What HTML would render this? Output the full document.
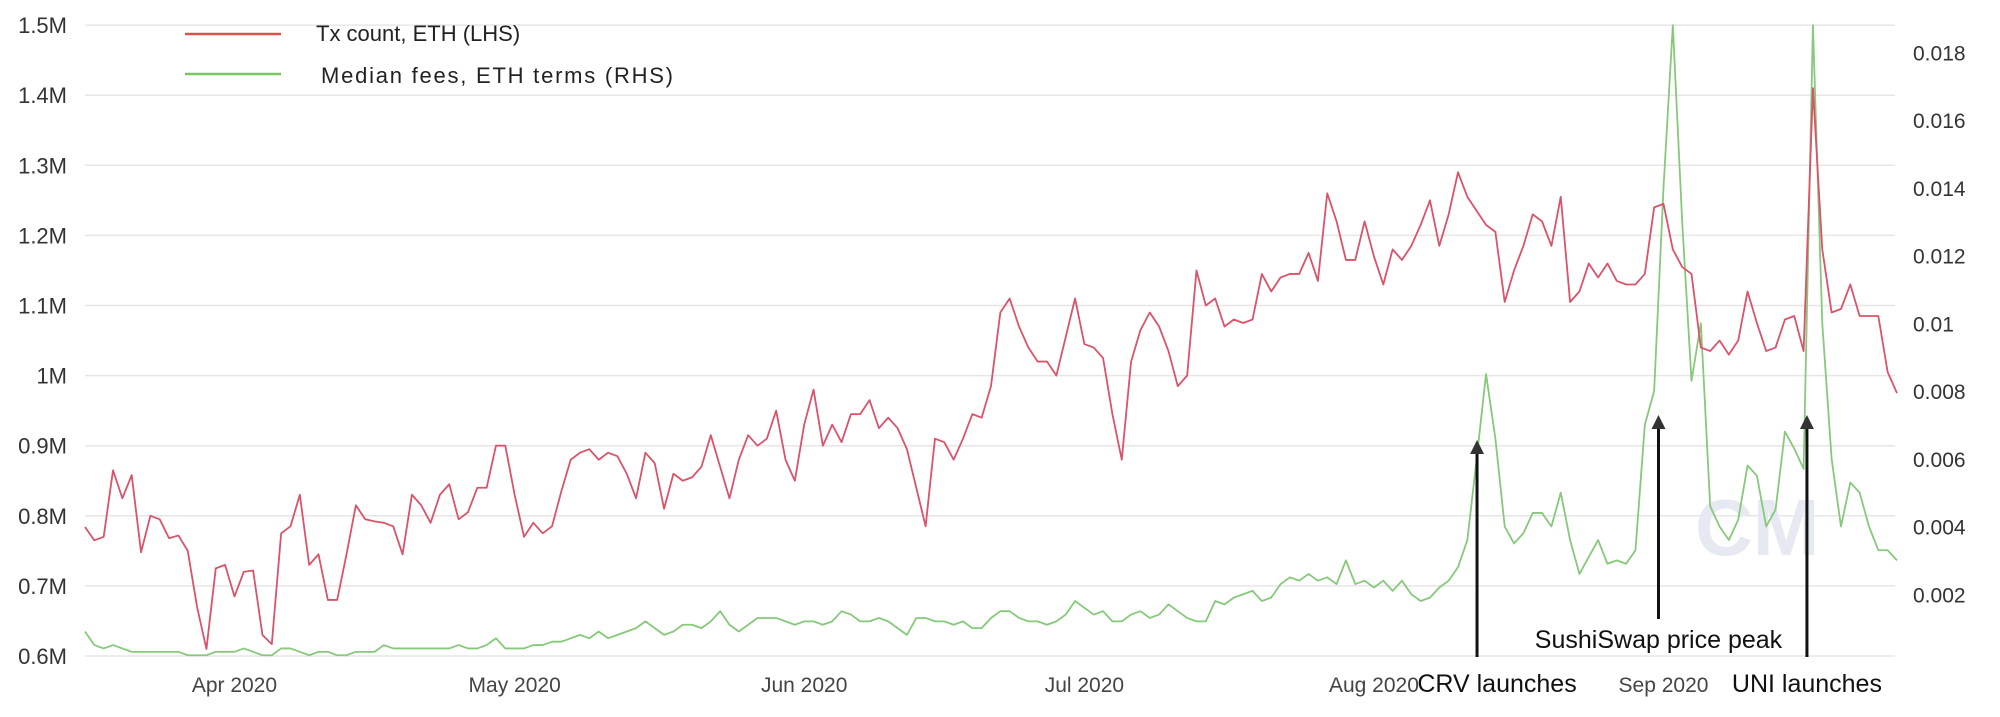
<!DOCTYPE html>
<html><head><meta charset="utf-8"><style>
html,body{margin:0;padding:0;background:#fff;}
svg{display:block;font-family:"Liberation Sans",sans-serif;}
</style></head><body>
<svg id="chart" width="2000" height="717" viewBox="0 0 2000 717">
<g id="grid"></g>
<g id="yleft"></g>
<g id="yright"></g>
<g id="xaxis"></g>
<text x="1695" y="555" font-size="80" fill="#e6e8f2" font-weight="bold">CM</text>
<g id="series"></g>
<g>
<g><line x1="185" y1="34" x2="281" y2="34" stroke="#d9534f" stroke-width="2.5"/><text x="316" y="41" font-size="22" fill="#222">Tx count, ETH (LHS)</text></g>
<g><line x1="185" y1="74" x2="281" y2="74" stroke="#7cc36a" stroke-width="2.5"/><text x="321" y="83" font-size="22" fill="#222" textLength="352" lengthAdjust="spacing">Median fees, ETH terms (RHS)</text></g>
</g>
<g id="annotations"></g>
</svg>
<script>
const dates = ["2020-03-16","2020-09-26"];
const monthLabels = ["Apr 2020","May 2020","Jun 2020","Jul 2020","Aug 2020","Sep 2020"];
const monthDayIndex = [16,46,77,107,138,169];
const leftTicks = [0.6,0.7,0.8,0.9,1.0,1.1,1.2,1.3,1.4,1.5];
const leftTickLabels = ["0.6M","0.7M","0.8M","0.9M","1M","1.1M","1.2M","1.3M","1.4M","1.5M"];
const rightTicks = [0.002,0.004,0.006,0.008,0.01,0.012,0.014,0.016,0.018];
const rightTickLabels = ["0.002","0.004","0.006","0.008","0.01","0.012","0.014","0.016","0.018"];
const txCount = [0.784,0.765,0.77,0.865,0.825,0.858,0.748,0.80,0.795,0.768,0.772,0.75,0.67,0.61,0.725,0.73,
0.685,0.72,0.722,0.63,0.617,0.775,0.785,0.83,0.73,0.745,0.68,0.68,0.745,0.815,0.795,0.792,0.79,0.785,0.745,0.83,0.815,0.79,0.83,0.845,0.795,0.805,0.84,0.84,0.90,0.90,
0.83,0.77,0.79,0.775,0.785,0.835,0.88,0.89,0.895,0.88,0.89,0.885,0.86,0.825,0.89,0.875,0.81,0.86,0.85,0.855,0.87,0.915,0.87,0.825,0.88,0.915,0.90,0.91,0.95,0.88,0.85,
0.93,0.98,0.90,0.93,0.905,0.945,0.945,0.965,0.925,0.94,0.925,0.895,0.84,0.785,0.91,0.905,0.88,0.91,0.945,0.94,0.985,1.09,1.11,1.07,1.04,1.02,1.02,1.0,1.055,1.11,
1.045,1.04,1.025,0.945,0.88,1.02,1.065,1.09,1.07,1.035,0.985,1.0,1.15,1.10,1.11,1.07,1.08,1.075,1.08,1.145,1.12,1.14,1.145,1.145,1.175,1.135,1.26,1.22,1.165,1.165,1.22,
1.17,1.13,1.18,1.165,1.185,1.215,1.25,1.185,1.23,1.29,1.255,1.235,1.215,1.205,1.105,1.15,1.185,1.23,1.22,1.185,1.255,1.105,1.12,1.16,1.14,1.16,1.135,1.13,1.13,1.145,1.24,
1.245,1.18,1.155,1.145,1.04,1.035,1.05,1.03,1.05,1.12,1.075,1.035,1.04,1.08,1.085,1.035,1.41,1.18,1.09,1.095,1.13,1.085,1.085,1.085,1.005,0.975];
const medianFees = [0.0009,0.0005,0.0004,0.0005,0.0004,0.0003,0.0003,0.0003,0.0003,0.0003,0.0003,0.0002,0.0002,0.0002,0.0003,0.0003,
0.0003,0.0004,0.0003,0.0002,0.0002,0.0004,0.0004,0.0003,0.0002,0.0003,0.0003,0.0002,0.0002,0.0003,0.0003,0.0003,0.0005,0.0004,0.0004,0.0004,0.0004,0.0004,0.0004,0.0004,0.0005,0.0004,0.0004,0.0005,0.0007,0.0004,
0.0004,0.0004,0.0005,0.0005,0.0006,0.0006,0.0007,0.0008,0.0007,0.0009,0.0007,0.0008,0.0009,0.0010,0.0012,0.0010,0.0008,0.0009,0.0011,0.0011,0.0010,0.0012,0.0015,0.0011,0.0009,0.0011,0.0013,0.0013,0.0013,0.0012,0.0011,
0.0012,0.0012,0.0011,0.0012,0.0015,0.0014,0.0012,0.0012,0.0013,0.0012,0.0010,0.0008,0.0013,0.0013,0.0012,0.0012,0.0011,0.0012,0.0010,0.0010,0.0013,0.0015,0.0015,0.0013,0.0012,0.0012,0.0011,0.0012,0.0014,0.0018,
0.0016,0.0014,0.0015,0.0012,0.0012,0.0014,0.0015,0.0013,0.0014,0.0017,0.0015,0.0013,0.0012,0.0012,0.0018,0.0017,0.0019,0.0020,0.0021,0.0018,0.0019,0.0023,0.0025,0.0024,0.0026,0.0024,0.0025,0.0023,0.0030,0.0023,0.0024,
0.0022,0.0024,0.0021,0.0024,0.0020,0.0018,0.0019,0.0022,0.0024,0.0028,0.0036,0.0060,0.0085,0.0066,0.0040,0.0035,0.0038,0.0044,0.0044,0.0040,0.0050,0.0036,0.0026,0.0031,0.0036,0.0029,0.0030,0.0029,0.0033,0.0070,0.0080,
0.0140,0.0188,0.0130,0.0083,0.0100,0.0046,0.0040,0.0036,0.0042,0.0058,0.0055,0.0040,0.0045,0.0068,0.0063,0.0057,0.0188,0.0100,0.0060,0.0040,0.0053,0.0050,0.0040,0.0033,0.0033,0.0030];
const annotationLabels = ["CRV launches","SushiSwap price peak","UNI launches"];
const annotationDayIndex = [150,169,185];

const NS="http://www.w3.org/2000/svg";
const X0=85, X1=1897;
const xScale=i=>X0+(X1-X0)*i/(txCount.length-1);
const yL=v=>656-(v-0.6)*701;
const yR=f=>662-f*33875;
function mk(tag,attrs,parent){const e=document.createElementNS(NS,tag);for(const k in attrs)e.setAttribute(k,attrs[k]);parent.appendChild(e);return e;}
const grid=document.getElementById('grid'),yl=document.getElementById('yleft'),yr=document.getElementById('yright'),xa=document.getElementById('xaxis'),se=document.getElementById('series'),an=document.getElementById('annotations');
leftTicks.forEach((v,i)=>{
  const g=mk('line',{x1:X0,x2:1895,y1:yL(v),y2:yL(v),stroke:'#e6e6e6','stroke-width':1.5},grid);
  
  
  const t=mk('text',{x:67,y:yL(v)+8,'text-anchor':'end','font-size':22,fill:'#333'},yl);
  t.textContent=leftTickLabels[i];
  
  
});
rightTicks.forEach((v,i)=>{
  const t=mk('text',{x:1913,y:yR(v)+8,'font-size':21,fill:'#333'},yr);
  t.textContent=rightTickLabels[i];
  
  
});
monthLabels.forEach((m,i)=>{
  const t=mk('text',{x:xScale(monthDayIndex[i]),y:692,'text-anchor':'middle','font-size':21,fill:'#444'},xa);
  t.textContent=m;
  
  
});
const fp=mk('polyline',{points:medianFees.map((f,i)=>xScale(i)+','+yR(f)).join(' '),fill:'none',stroke:'#86c97a','stroke-width':1.8,'stroke-linejoin':'round'},se);


const tp=mk('polyline',{points:txCount.map((v,i)=>xScale(i)+','+yL(v)).join(' '),fill:'none',stroke:'#d9536a','stroke-width':1.8,'stroke-linejoin':'round'},se);


const arrowTips=[440,415,415], arrowBottoms=[657,619,657], textY=[692,648,692];
annotationLabels.forEach((lab,i)=>{
  const x=xScale(annotationDayIndex[i])+(i==0?-9:(i==1?-5:-6));
  const g=mk('g',{},an);
  
  
  mk('line',{x1:x,x2:x,y1:arrowTips[i]+12,y2:arrowBottoms[i],stroke:'#111','stroke-width':3},g);
  mk('polygon',{points:(x-7)+','+(arrowTips[i]+14)+' '+(x+7)+','+(arrowTips[i]+14)+' '+x+','+arrowTips[i],fill:'#333'},g);
  const t=mk('text',{x:x+(i==0?20:0),y:textY[i],'text-anchor':'middle','font-size':25,fill:'#111'},g);
  t.textContent=lab;
});
</script>
</body></html>
